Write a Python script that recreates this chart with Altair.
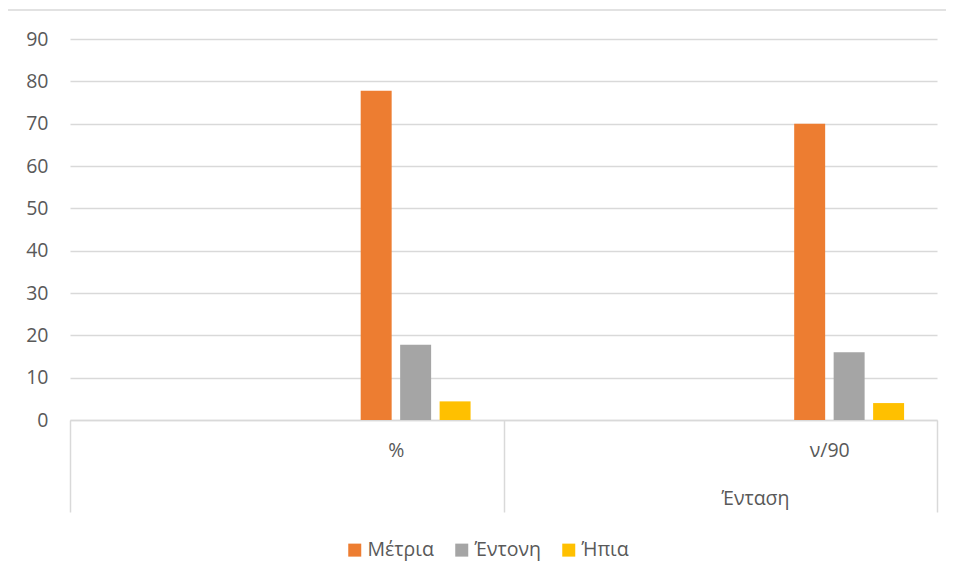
import altair as alt
import pandas as pd

categories = ["%", "ν/90"]
series = ["Μέτρια", "Έντονη", "Ήπια"]
values_pct = [77.8, 17.8, 4.4]
values_n = [70, 16, 4]
colors = ["#ED7D31", "#A5A5A5", "#FFC000"]
y_ticks = list(range(0, 100, 10))
group_title = "Ένταση"
# empty slots Excel leaves before the visible series in each category
empty_slots = ["_e0", "_e1", "_e2", "_e3", "_e4", "_e5", "_e6"]

rows = []
for s, v in zip(series, values_pct):
    rows.append({"cat": categories[0], "series": s, "value": v})
for s, v in zip(series, values_n):
    rows.append({"cat": categories[1], "series": s, "value": v})
df = pd.DataFrame(rows)

FONT = "Open Sans"
TXT = "#595959"
GRID = "#D9D9D9"
FS = 19.5

bars = alt.Chart(df).mark_bar().encode(
    x=alt.X(
        "cat:N",
        sort=categories,
        scale=alt.Scale(domain=categories, paddingInner=0, paddingOuter=0),
        axis=alt.Axis(
            title=group_title,
            titleX=685,
            titleY=78,
            titleAngle=0,
            titleBaseline="middle",
            titleFontWeight="normal",
            titleFontSize=FS,
            titleColor=TXT,
            titleFont=FONT,
            labelAngle=0,
            labelOffset=109,
            labelPadding=-71,
            labelFontSize=FS,
            labelColor=TXT,
            labelFont=FONT,
            domainColor=GRID,
            domainWidth=1.5,
            tickBand="extent",
            tickSize=92,
            tickColor=GRID,
            tickWidth=1.5,
            grid=False,
        ),
    ),
    xOffset=alt.XOffset(
        "series:N",
        scale=alt.Scale(domain=empty_slots + series, paddingInner=0.215, paddingOuter=0.6, align=0.305),
    ),
    y=alt.Y(
        "value:Q",
        scale=alt.Scale(domain=[0, 90], nice=False),
        axis=alt.Axis(
            title=None,
            values=y_ticks,
            domain=False,
            ticks=False,
            labelPadding=22,
            labelFontSize=FS,
            labelColor=TXT,
            labelFont=FONT,
            gridColor=GRID,
            gridWidth=1.5,
        ),
    ),
    color=alt.Color(
        "series:N",
        sort=series,
        scale=alt.Scale(domain=series, range=colors),
        legend=alt.Legend(
            title=None,
            orient="none",
            direction="horizontal",
            legendX=275,
            legendY=501,
            symbolType="square",
            symbolSize=169,
            symbolStrokeWidth=0,
            symbolOpacity=1,
            labelFontSize=FS,
            labelColor=TXT,
            labelFont=FONT,
            labelOffset=3,
            columnPadding=18,
        ),
    ),
)

border_df = pd.DataFrame({"k": [0]})
top_border = alt.Chart(border_df).mark_rule(color=GRID, strokeWidth=1.5).encode(
    x=alt.value(-63), x2=alt.value(880), y=alt.value(-29), y2=alt.value(-29)
)
left_border = alt.Chart(border_df).mark_rule(color=GRID, strokeWidth=1.5).encode(
    x=alt.value(-63), x2=alt.value(-63), y=alt.value(-29), y2=alt.value(541)
)

chart = alt.layer(bars, top_border, left_border).properties(
    width=867,
    height=381,
    autosize=alt.AutoSizeParams(type="none"),
    padding={"left": 62, "top": 31, "right": 9, "bottom": 152},
).configure(
    background="white",
    view=alt.ViewConfig(stroke="transparent"),
)

chart.save("out.html", embed_options={"renderer": "svg", "actions": False})
